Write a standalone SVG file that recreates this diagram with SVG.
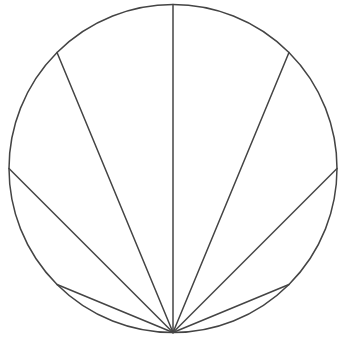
<svg xmlns="http://www.w3.org/2000/svg" width="338" height="339" viewBox="0 0 338 339">
<style>
.s{fill:none;stroke:#444;stroke-width:1.5;stroke-linecap:round}
</style>
<rect width="338" height="339" fill="#fff"/>
<g id="circle"><circle class="s" cx="173" cy="168.5" r="164"/></g>
<g id="chords" class="s">
<line x1="173" y1="332.5" x2="173" y2="4.5"/>
<line x1="173" y1="332.5" x2="57.03" y2="52.53"/>
<line x1="173" y1="332.5" x2="288.97" y2="52.53"/>
<line x1="173" y1="332.5" x2="9" y2="168.5"/>
<line x1="173" y1="332.5" x2="337" y2="168.5"/>
<line x1="173" y1="332.5" x2="57.03" y2="284.47"/>
<line x1="173" y1="332.5" x2="288.97" y2="284.47"/>
</g>
</svg>
